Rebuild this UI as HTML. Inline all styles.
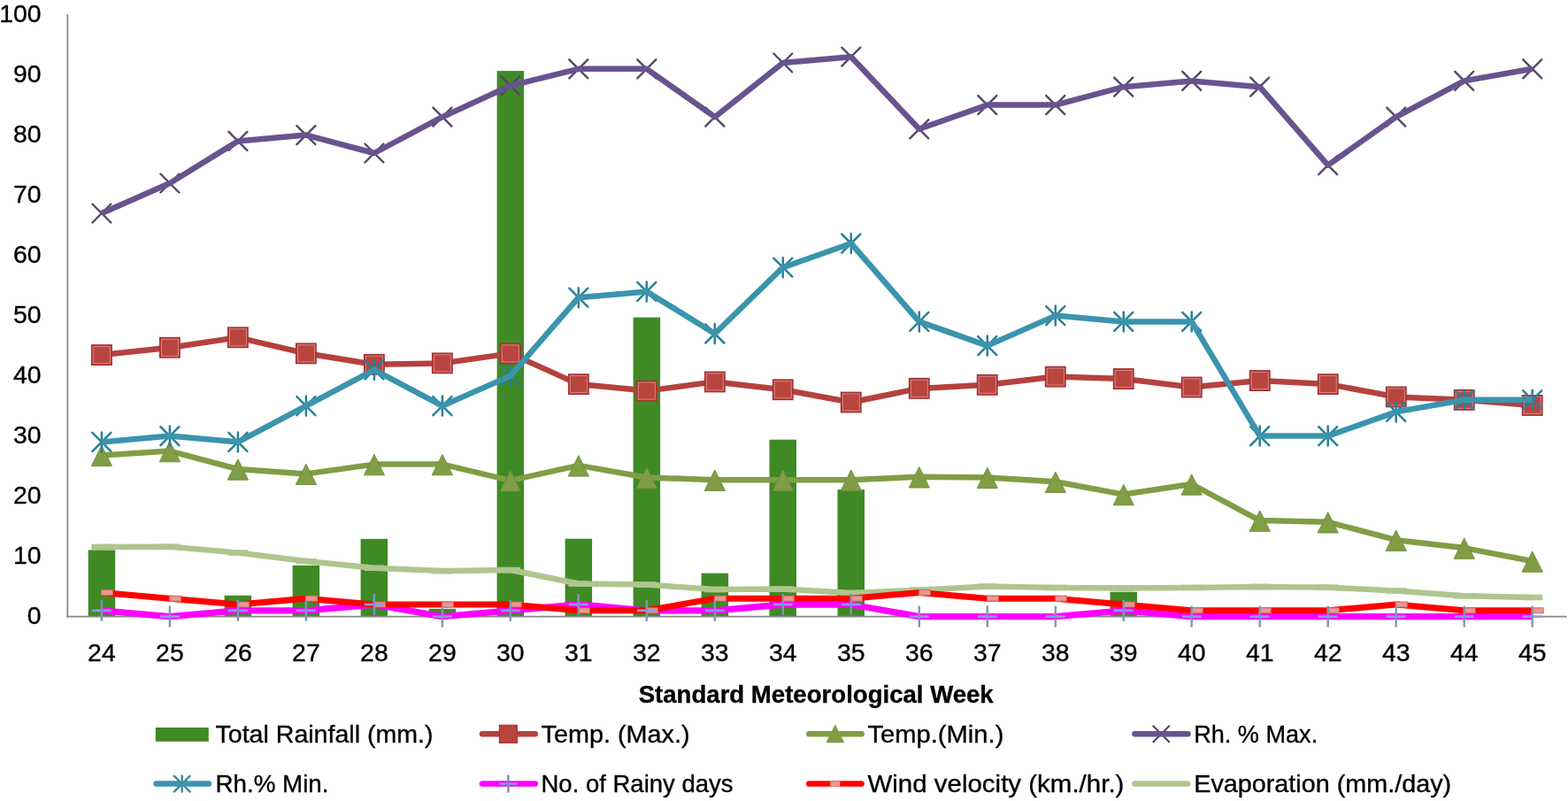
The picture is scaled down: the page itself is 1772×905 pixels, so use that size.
<!DOCTYPE html><html><head><meta charset="utf-8"><title>Weather parameters by Standard Meteorological Week</title>
<style>html,body{margin:0;padding:0;background:#fff;}body{width:1772px;height:905px;overflow:hidden;}svg{display:block;}text{font-family:"Liberation Sans",Arial,sans-serif;fill:#000;stroke:#000;stroke-width:0.35px;}</style></head><body>
<svg width="1772" height="905" viewBox="0 0 1772 905">
<rect x="0" y="0" width="1772" height="905" fill="#ffffff"/>
<rect x="99.7" y="621.4" width="30.5" height="75.2" fill="#3f8a24"/>
<rect x="253.6" y="672.8" width="30.5" height="23.8" fill="#3f8a24"/>
<rect x="330.6" y="638.8" width="30.5" height="57.8" fill="#3f8a24"/>
<rect x="407.6" y="608.9" width="30.5" height="87.7" fill="#3f8a24"/>
<rect x="484.6" y="687.8" width="30.5" height="8.8" fill="#3f8a24"/>
<rect x="561.6" y="80.1" width="30.5" height="616.5" fill="#3f8a24"/>
<rect x="638.6" y="608.7" width="30.5" height="87.9" fill="#3f8a24"/>
<rect x="715.6" y="358.6" width="30.5" height="338.0" fill="#3f8a24"/>
<rect x="792.6" y="647.6" width="30.5" height="49.0" fill="#3f8a24"/>
<rect x="869.5" y="496.7" width="30.5" height="199.9" fill="#3f8a24"/>
<rect x="946.5" y="553.1" width="30.5" height="143.5" fill="#3f8a24"/>
<rect x="1254.5" y="668.7" width="30.5" height="27.9" fill="#3f8a24"/>
<line x1="76.3" y1="16.3" x2="76.3" y2="697.5" stroke="#878787" stroke-width="1.8"/>
<line x1="75.4" y1="696.6" x2="1770.5" y2="696.6" stroke="#878787" stroke-width="1.8"/>
<polyline points="114.9,618.0 191.9,617.7 268.9,624.5 345.9,634.0 422.9,641.8 499.9,645.1 576.8,644.0 653.8,659.5 730.8,660.6 807.8,666.0 884.8,665.5 961.8,670.1 1038.8,666.7 1115.8,662.6 1192.8,664.0 1269.8,664.6 1346.7,664.0 1423.7,662.9 1500.7,663.7 1577.7,667.4 1654.7,673.2 1731.7,675.0" fill="none" stroke="#aec68e" stroke-width="6.5" stroke-linejoin="round" stroke-linecap="butt"/>
<rect x="103.4" y="614.7" width="23" height="6.5" fill="#aec68e"/>
<rect x="180.4" y="614.5" width="23" height="6.5" fill="#aec68e"/>
<rect x="257.4" y="621.3" width="23" height="6.5" fill="#aec68e"/>
<rect x="334.4" y="630.8" width="23" height="6.5" fill="#aec68e"/>
<rect x="411.4" y="638.5" width="23" height="6.5" fill="#aec68e"/>
<rect x="488.4" y="641.9" width="23" height="6.5" fill="#aec68e"/>
<rect x="565.3" y="640.8" width="23" height="6.5" fill="#aec68e"/>
<rect x="642.3" y="656.3" width="23" height="6.5" fill="#aec68e"/>
<rect x="719.3" y="657.3" width="23" height="6.5" fill="#aec68e"/>
<rect x="796.3" y="662.8" width="23" height="6.5" fill="#aec68e"/>
<rect x="873.3" y="662.3" width="23" height="6.5" fill="#aec68e"/>
<rect x="950.3" y="666.8" width="23" height="6.5" fill="#aec68e"/>
<rect x="1027.3" y="663.4" width="23" height="6.5" fill="#aec68e"/>
<rect x="1104.3" y="659.4" width="23" height="6.5" fill="#aec68e"/>
<rect x="1181.3" y="660.7" width="23" height="6.5" fill="#aec68e"/>
<rect x="1258.2" y="661.4" width="23" height="6.5" fill="#aec68e"/>
<rect x="1335.2" y="660.7" width="23" height="6.5" fill="#aec68e"/>
<rect x="1412.2" y="659.7" width="23" height="6.5" fill="#aec68e"/>
<rect x="1489.2" y="660.4" width="23" height="6.5" fill="#aec68e"/>
<rect x="1566.2" y="664.1" width="23" height="6.5" fill="#aec68e"/>
<rect x="1643.2" y="670.0" width="23" height="6.5" fill="#aec68e"/>
<rect x="1720.2" y="671.7" width="23" height="6.5" fill="#aec68e"/>
<polyline points="114.9,689.8 191.9,696.6 268.9,689.8 345.9,689.8 422.9,683.0 499.9,696.6 576.8,689.8 653.8,683.0 730.8,689.8 807.8,689.8 884.8,683.0 961.8,683.0 1038.8,696.6 1115.8,696.6 1192.8,696.6 1269.8,689.8 1346.7,696.6 1423.7,696.6 1500.7,696.6 1577.7,696.6 1654.7,696.6 1731.7,696.6" fill="none" stroke="#ff00ff" stroke-width="7.3" stroke-linejoin="round" stroke-linecap="butt"/>
<polyline points="114.9,669.4 191.9,676.2 268.9,683.0 345.9,676.2 422.9,683.0 499.9,683.0 576.8,683.0 653.8,689.8 730.8,689.8 807.8,676.2 884.8,676.2 961.8,676.2 1038.8,669.4 1115.8,676.2 1192.8,676.2 1269.8,683.0 1346.7,689.8 1423.7,689.8 1500.7,689.8 1577.7,683.0 1654.7,689.8 1731.7,689.8" fill="none" stroke="#ff0000" stroke-width="7.0" stroke-linejoin="round" stroke-linecap="butt"/>
<rect x="114.4" y="666.4" width="13" height="6" fill="#e49a96" stroke="#e06060" stroke-width="1"/>
<rect x="191.4" y="673.2" width="13" height="6" fill="#e49a96" stroke="#e06060" stroke-width="1"/>
<rect x="268.4" y="680.0" width="13" height="6" fill="#e49a96" stroke="#e06060" stroke-width="1"/>
<rect x="345.4" y="673.2" width="13" height="6" fill="#e49a96" stroke="#e06060" stroke-width="1"/>
<rect x="422.4" y="680.0" width="13" height="6" fill="#e49a96" stroke="#e06060" stroke-width="1"/>
<rect x="499.4" y="680.0" width="13" height="6" fill="#e49a96" stroke="#e06060" stroke-width="1"/>
<rect x="576.3" y="680.0" width="13" height="6" fill="#e49a96" stroke="#e06060" stroke-width="1"/>
<rect x="653.3" y="686.8" width="13" height="6" fill="#e49a96" stroke="#e06060" stroke-width="1"/>
<rect x="730.3" y="686.8" width="13" height="6" fill="#e49a96" stroke="#e06060" stroke-width="1"/>
<rect x="807.3" y="673.2" width="13" height="6" fill="#e49a96" stroke="#e06060" stroke-width="1"/>
<rect x="884.3" y="673.2" width="13" height="6" fill="#e49a96" stroke="#e06060" stroke-width="1"/>
<rect x="961.3" y="673.2" width="13" height="6" fill="#e49a96" stroke="#e06060" stroke-width="1"/>
<rect x="1038.3" y="666.4" width="13" height="6" fill="#e49a96" stroke="#e06060" stroke-width="1"/>
<rect x="1115.3" y="673.2" width="13" height="6" fill="#e49a96" stroke="#e06060" stroke-width="1"/>
<rect x="1192.3" y="673.2" width="13" height="6" fill="#e49a96" stroke="#e06060" stroke-width="1"/>
<rect x="1269.2" y="680.0" width="13" height="6" fill="#e49a96" stroke="#e06060" stroke-width="1"/>
<rect x="1346.2" y="686.8" width="13" height="6" fill="#e49a96" stroke="#e06060" stroke-width="1"/>
<rect x="1423.2" y="686.8" width="13" height="6" fill="#e49a96" stroke="#e06060" stroke-width="1"/>
<rect x="1500.2" y="686.8" width="13" height="6" fill="#e49a96" stroke="#e06060" stroke-width="1"/>
<rect x="1577.2" y="680.0" width="13" height="6" fill="#e49a96" stroke="#e06060" stroke-width="1"/>
<rect x="1654.2" y="686.8" width="13" height="6" fill="#e49a96" stroke="#e06060" stroke-width="1"/>
<rect x="1731.2" y="686.8" width="13" height="6" fill="#e49a96" stroke="#e06060" stroke-width="1"/>
<line x1="103.9" y1="689.8" x2="125.9" y2="689.8" stroke="#8c9be6" stroke-width="2.6"/>
<line x1="114.9" y1="677.8" x2="114.9" y2="701.8" stroke="#8193bb" stroke-width="2.4"/>
<line x1="180.9" y1="696.6" x2="202.9" y2="696.6" stroke="#8c9be6" stroke-width="2.6"/>
<line x1="191.9" y1="684.6" x2="191.9" y2="708.6" stroke="#8193bb" stroke-width="2.4"/>
<line x1="257.9" y1="689.8" x2="279.9" y2="689.8" stroke="#8c9be6" stroke-width="2.6"/>
<line x1="268.9" y1="677.8" x2="268.9" y2="701.8" stroke="#8193bb" stroke-width="2.4"/>
<line x1="334.9" y1="689.8" x2="356.9" y2="689.8" stroke="#8c9be6" stroke-width="2.6"/>
<line x1="345.9" y1="677.8" x2="345.9" y2="701.8" stroke="#8193bb" stroke-width="2.4"/>
<line x1="411.9" y1="683.0" x2="433.9" y2="683.0" stroke="#8c9be6" stroke-width="2.6"/>
<line x1="422.9" y1="671.0" x2="422.9" y2="695.0" stroke="#8193bb" stroke-width="2.4"/>
<line x1="488.9" y1="696.6" x2="510.9" y2="696.6" stroke="#8c9be6" stroke-width="2.6"/>
<line x1="499.9" y1="684.6" x2="499.9" y2="708.6" stroke="#8193bb" stroke-width="2.4"/>
<line x1="565.8" y1="689.8" x2="587.8" y2="689.8" stroke="#8c9be6" stroke-width="2.6"/>
<line x1="576.8" y1="677.8" x2="576.8" y2="701.8" stroke="#8193bb" stroke-width="2.4"/>
<line x1="642.8" y1="683.0" x2="664.8" y2="683.0" stroke="#8c9be6" stroke-width="2.6"/>
<line x1="653.8" y1="671.0" x2="653.8" y2="695.0" stroke="#8193bb" stroke-width="2.4"/>
<line x1="719.8" y1="689.8" x2="741.8" y2="689.8" stroke="#8c9be6" stroke-width="2.6"/>
<line x1="730.8" y1="677.8" x2="730.8" y2="701.8" stroke="#8193bb" stroke-width="2.4"/>
<line x1="796.8" y1="689.8" x2="818.8" y2="689.8" stroke="#8c9be6" stroke-width="2.6"/>
<line x1="807.8" y1="677.8" x2="807.8" y2="701.8" stroke="#8193bb" stroke-width="2.4"/>
<line x1="873.8" y1="683.0" x2="895.8" y2="683.0" stroke="#8c9be6" stroke-width="2.6"/>
<line x1="884.8" y1="671.0" x2="884.8" y2="695.0" stroke="#8193bb" stroke-width="2.4"/>
<line x1="950.8" y1="683.0" x2="972.8" y2="683.0" stroke="#8c9be6" stroke-width="2.6"/>
<line x1="961.8" y1="671.0" x2="961.8" y2="695.0" stroke="#8193bb" stroke-width="2.4"/>
<line x1="1027.8" y1="696.6" x2="1049.8" y2="696.6" stroke="#8c9be6" stroke-width="2.6"/>
<line x1="1038.8" y1="684.6" x2="1038.8" y2="708.6" stroke="#8193bb" stroke-width="2.4"/>
<line x1="1104.8" y1="696.6" x2="1126.8" y2="696.6" stroke="#8c9be6" stroke-width="2.6"/>
<line x1="1115.8" y1="684.6" x2="1115.8" y2="708.6" stroke="#8193bb" stroke-width="2.4"/>
<line x1="1181.8" y1="696.6" x2="1203.8" y2="696.6" stroke="#8c9be6" stroke-width="2.6"/>
<line x1="1192.8" y1="684.6" x2="1192.8" y2="708.6" stroke="#8193bb" stroke-width="2.4"/>
<line x1="1258.8" y1="689.8" x2="1280.8" y2="689.8" stroke="#8c9be6" stroke-width="2.6"/>
<line x1="1269.8" y1="677.8" x2="1269.8" y2="701.8" stroke="#8193bb" stroke-width="2.4"/>
<line x1="1335.7" y1="696.6" x2="1357.7" y2="696.6" stroke="#8c9be6" stroke-width="2.6"/>
<line x1="1346.7" y1="684.6" x2="1346.7" y2="708.6" stroke="#8193bb" stroke-width="2.4"/>
<line x1="1412.7" y1="696.6" x2="1434.7" y2="696.6" stroke="#8c9be6" stroke-width="2.6"/>
<line x1="1423.7" y1="684.6" x2="1423.7" y2="708.6" stroke="#8193bb" stroke-width="2.4"/>
<line x1="1489.7" y1="696.6" x2="1511.7" y2="696.6" stroke="#8c9be6" stroke-width="2.6"/>
<line x1="1500.7" y1="684.6" x2="1500.7" y2="708.6" stroke="#8193bb" stroke-width="2.4"/>
<line x1="1566.7" y1="696.6" x2="1588.7" y2="696.6" stroke="#8c9be6" stroke-width="2.6"/>
<line x1="1577.7" y1="684.6" x2="1577.7" y2="708.6" stroke="#8193bb" stroke-width="2.4"/>
<line x1="1643.7" y1="696.6" x2="1665.7" y2="696.6" stroke="#8c9be6" stroke-width="2.6"/>
<line x1="1654.7" y1="684.6" x2="1654.7" y2="708.6" stroke="#8193bb" stroke-width="2.4"/>
<line x1="1720.7" y1="696.6" x2="1742.7" y2="696.6" stroke="#8c9be6" stroke-width="2.6"/>
<line x1="1731.7" y1="684.6" x2="1731.7" y2="708.6" stroke="#8193bb" stroke-width="2.4"/>
<polyline points="114.9,514.4 191.9,509.6 268.9,530.0 345.9,535.4 422.9,524.6 499.9,524.6 576.8,542.9 653.8,525.9 730.8,539.5 807.8,542.2 884.8,542.2 961.8,542.2 1038.8,538.8 1115.8,539.5 1192.8,544.3 1269.8,558.6 1346.7,547.0 1423.7,588.1 1500.7,589.8 1577.7,610.2 1654.7,619.1 1731.7,634.0" fill="none" stroke="#7f9e45" stroke-width="6.5" stroke-linejoin="round" stroke-linecap="butt"/>
<polygon points="114.9,503.2 126.5,526.6 103.3,526.6" fill="#7f9e45" stroke="#758f3f" stroke-width="1" stroke-linejoin="round"/>
<polygon points="191.9,498.4 203.5,521.8 180.3,521.8" fill="#7f9e45" stroke="#758f3f" stroke-width="1" stroke-linejoin="round"/>
<polygon points="268.9,518.8 280.5,542.2 257.3,542.2" fill="#7f9e45" stroke="#758f3f" stroke-width="1" stroke-linejoin="round"/>
<polygon points="345.9,524.2 357.5,547.6 334.3,547.6" fill="#7f9e45" stroke="#758f3f" stroke-width="1" stroke-linejoin="round"/>
<polygon points="422.9,513.4 434.5,536.8 411.3,536.8" fill="#7f9e45" stroke="#758f3f" stroke-width="1" stroke-linejoin="round"/>
<polygon points="499.9,513.4 511.5,536.8 488.2,536.8" fill="#7f9e45" stroke="#758f3f" stroke-width="1" stroke-linejoin="round"/>
<polygon points="576.8,531.7 588.4,555.1 565.2,555.1" fill="#7f9e45" stroke="#758f3f" stroke-width="1" stroke-linejoin="round"/>
<polygon points="653.8,514.7 665.4,538.1 642.2,538.1" fill="#7f9e45" stroke="#758f3f" stroke-width="1" stroke-linejoin="round"/>
<polygon points="730.8,528.3 742.4,551.7 719.2,551.7" fill="#7f9e45" stroke="#758f3f" stroke-width="1" stroke-linejoin="round"/>
<polygon points="807.8,531.0 819.4,554.4 796.2,554.4" fill="#7f9e45" stroke="#758f3f" stroke-width="1" stroke-linejoin="round"/>
<polygon points="884.8,531.0 896.4,554.4 873.2,554.4" fill="#7f9e45" stroke="#758f3f" stroke-width="1" stroke-linejoin="round"/>
<polygon points="961.8,531.0 973.4,554.4 950.2,554.4" fill="#7f9e45" stroke="#758f3f" stroke-width="1" stroke-linejoin="round"/>
<polygon points="1038.8,527.6 1050.4,551.0 1027.2,551.0" fill="#7f9e45" stroke="#758f3f" stroke-width="1" stroke-linejoin="round"/>
<polygon points="1115.8,528.3 1127.4,551.7 1104.2,551.7" fill="#7f9e45" stroke="#758f3f" stroke-width="1" stroke-linejoin="round"/>
<polygon points="1192.8,533.1 1204.4,556.5 1181.2,556.5" fill="#7f9e45" stroke="#758f3f" stroke-width="1" stroke-linejoin="round"/>
<polygon points="1269.8,547.4 1281.3,570.8 1258.2,570.8" fill="#7f9e45" stroke="#758f3f" stroke-width="1" stroke-linejoin="round"/>
<polygon points="1346.7,535.8 1358.3,559.2 1335.1,559.2" fill="#7f9e45" stroke="#758f3f" stroke-width="1" stroke-linejoin="round"/>
<polygon points="1423.7,576.9 1435.3,600.3 1412.1,600.3" fill="#7f9e45" stroke="#758f3f" stroke-width="1" stroke-linejoin="round"/>
<polygon points="1500.7,578.6 1512.3,602.0 1489.1,602.0" fill="#7f9e45" stroke="#758f3f" stroke-width="1" stroke-linejoin="round"/>
<polygon points="1577.7,599.0 1589.3,622.4 1566.1,622.4" fill="#7f9e45" stroke="#758f3f" stroke-width="1" stroke-linejoin="round"/>
<polygon points="1654.7,607.9 1666.3,631.3 1643.1,631.3" fill="#7f9e45" stroke="#758f3f" stroke-width="1" stroke-linejoin="round"/>
<polygon points="1731.7,622.8 1743.3,646.2 1720.1,646.2" fill="#7f9e45" stroke="#758f3f" stroke-width="1" stroke-linejoin="round"/>
<polyline points="114.9,401.0 191.9,392.8 268.9,381.3 345.9,399.3 422.9,411.8 499.9,410.4 576.8,399.4 653.8,434.1 730.8,441.6 807.8,431.4 884.8,440.2 961.8,454.5 1038.8,438.9 1115.8,434.8 1192.8,425.6 1269.8,428.0 1346.7,437.5 1423.7,430.0 1500.7,434.1 1577.7,448.4 1654.7,451.8 1731.7,457.9" fill="none" stroke="#b5413e" stroke-width="6.5" stroke-linejoin="round" stroke-linecap="butt"/>
<rect x="103.7" y="389.8" width="22.5" height="22.5" fill="#b9453f" stroke="#a33338" stroke-width="1.4"/>
<rect x="105.4" y="391.5" width="19" height="19" fill="none" stroke="#d98a86" stroke-width="0.9"/>
<rect x="180.6" y="381.5" width="22.5" height="22.5" fill="#b9453f" stroke="#a33338" stroke-width="1.4"/>
<rect x="182.4" y="383.3" width="19" height="19" fill="none" stroke="#d98a86" stroke-width="0.9"/>
<rect x="257.6" y="370.0" width="22.5" height="22.5" fill="#b9453f" stroke="#a33338" stroke-width="1.4"/>
<rect x="259.4" y="371.8" width="19" height="19" fill="none" stroke="#d98a86" stroke-width="0.9"/>
<rect x="334.6" y="388.1" width="22.5" height="22.5" fill="#b9453f" stroke="#a33338" stroke-width="1.4"/>
<rect x="336.4" y="389.8" width="19" height="19" fill="none" stroke="#d98a86" stroke-width="0.9"/>
<rect x="411.6" y="400.6" width="22.5" height="22.5" fill="#b9453f" stroke="#a33338" stroke-width="1.4"/>
<rect x="413.4" y="402.3" width="19" height="19" fill="none" stroke="#d98a86" stroke-width="0.9"/>
<rect x="488.6" y="399.1" width="22.5" height="22.5" fill="#b9453f" stroke="#a33338" stroke-width="1.4"/>
<rect x="490.4" y="400.9" width="19" height="19" fill="none" stroke="#d98a86" stroke-width="0.9"/>
<rect x="565.6" y="388.2" width="22.5" height="22.5" fill="#b9453f" stroke="#a33338" stroke-width="1.4"/>
<rect x="567.3" y="389.9" width="19" height="19" fill="none" stroke="#d98a86" stroke-width="0.9"/>
<rect x="642.6" y="422.9" width="22.5" height="22.5" fill="#b9453f" stroke="#a33338" stroke-width="1.4"/>
<rect x="644.3" y="424.6" width="19" height="19" fill="none" stroke="#d98a86" stroke-width="0.9"/>
<rect x="719.6" y="430.4" width="22.5" height="22.5" fill="#b9453f" stroke="#a33338" stroke-width="1.4"/>
<rect x="721.3" y="432.1" width="19" height="19" fill="none" stroke="#d98a86" stroke-width="0.9"/>
<rect x="796.6" y="420.2" width="22.5" height="22.5" fill="#b9453f" stroke="#a33338" stroke-width="1.4"/>
<rect x="798.3" y="421.9" width="19" height="19" fill="none" stroke="#d98a86" stroke-width="0.9"/>
<rect x="873.5" y="429.0" width="22.5" height="22.5" fill="#b9453f" stroke="#a33338" stroke-width="1.4"/>
<rect x="875.3" y="430.7" width="19" height="19" fill="none" stroke="#d98a86" stroke-width="0.9"/>
<rect x="950.5" y="443.3" width="22.5" height="22.5" fill="#b9453f" stroke="#a33338" stroke-width="1.4"/>
<rect x="952.3" y="445.0" width="19" height="19" fill="none" stroke="#d98a86" stroke-width="0.9"/>
<rect x="1027.5" y="427.6" width="22.5" height="22.5" fill="#b9453f" stroke="#a33338" stroke-width="1.4"/>
<rect x="1029.3" y="429.4" width="19" height="19" fill="none" stroke="#d98a86" stroke-width="0.9"/>
<rect x="1104.5" y="423.6" width="22.5" height="22.5" fill="#b9453f" stroke="#a33338" stroke-width="1.4"/>
<rect x="1106.3" y="425.3" width="19" height="19" fill="none" stroke="#d98a86" stroke-width="0.9"/>
<rect x="1181.5" y="414.4" width="22.5" height="22.5" fill="#b9453f" stroke="#a33338" stroke-width="1.4"/>
<rect x="1183.3" y="416.1" width="19" height="19" fill="none" stroke="#d98a86" stroke-width="0.9"/>
<rect x="1258.5" y="416.8" width="22.5" height="22.5" fill="#b9453f" stroke="#a33338" stroke-width="1.4"/>
<rect x="1260.2" y="418.5" width="19" height="19" fill="none" stroke="#d98a86" stroke-width="0.9"/>
<rect x="1335.5" y="426.3" width="22.5" height="22.5" fill="#b9453f" stroke="#a33338" stroke-width="1.4"/>
<rect x="1337.2" y="428.0" width="19" height="19" fill="none" stroke="#d98a86" stroke-width="0.9"/>
<rect x="1412.5" y="418.8" width="22.5" height="22.5" fill="#b9453f" stroke="#a33338" stroke-width="1.4"/>
<rect x="1414.2" y="420.5" width="19" height="19" fill="none" stroke="#d98a86" stroke-width="0.9"/>
<rect x="1489.5" y="422.9" width="22.5" height="22.5" fill="#b9453f" stroke="#a33338" stroke-width="1.4"/>
<rect x="1491.2" y="424.6" width="19" height="19" fill="none" stroke="#d98a86" stroke-width="0.9"/>
<rect x="1566.5" y="437.2" width="22.5" height="22.5" fill="#b9453f" stroke="#a33338" stroke-width="1.4"/>
<rect x="1568.2" y="438.9" width="19" height="19" fill="none" stroke="#d98a86" stroke-width="0.9"/>
<rect x="1643.5" y="440.6" width="22.5" height="22.5" fill="#b9453f" stroke="#a33338" stroke-width="1.4"/>
<rect x="1645.2" y="442.3" width="19" height="19" fill="none" stroke="#d98a86" stroke-width="0.9"/>
<rect x="1720.4" y="446.7" width="22.5" height="22.5" fill="#b9453f" stroke="#a33338" stroke-width="1.4"/>
<rect x="1722.2" y="448.4" width="19" height="19" fill="none" stroke="#d98a86" stroke-width="0.9"/>
<path d="M104.4 230.5L125.4 251.5M104.4 251.5L125.4 230.5" stroke="#524968" stroke-width="2.4" stroke-linecap="round" fill="none"/>
<path d="M181.4 196.5L202.4 217.5M181.4 217.5L202.4 196.5" stroke="#524968" stroke-width="2.4" stroke-linecap="round" fill="none"/>
<path d="M258.4 148.9L279.4 169.9M258.4 169.9L279.4 148.9" stroke="#524968" stroke-width="2.4" stroke-linecap="round" fill="none"/>
<path d="M335.4 142.1L356.4 163.1M335.4 163.1L356.4 142.1" stroke="#524968" stroke-width="2.4" stroke-linecap="round" fill="none"/>
<path d="M412.4 162.5L433.4 183.5M412.4 183.5L433.4 162.5" stroke="#524968" stroke-width="2.4" stroke-linecap="round" fill="none"/>
<path d="M489.4 121.7L510.4 142.7M489.4 142.7L510.4 121.7" stroke="#524968" stroke-width="2.4" stroke-linecap="round" fill="none"/>
<path d="M566.3 86.3L587.3 107.3M566.3 107.3L587.3 86.3" stroke="#524968" stroke-width="2.4" stroke-linecap="round" fill="none"/>
<path d="M643.3 67.3L664.3 88.3M643.3 88.3L664.3 67.3" stroke="#524968" stroke-width="2.4" stroke-linecap="round" fill="none"/>
<path d="M720.3 67.3L741.3 88.3M720.3 88.3L741.3 67.3" stroke="#524968" stroke-width="2.4" stroke-linecap="round" fill="none"/>
<path d="M797.3 121.7L818.3 142.7M797.3 142.7L818.3 121.7" stroke="#524968" stroke-width="2.4" stroke-linecap="round" fill="none"/>
<path d="M874.3 60.5L895.3 81.5M874.3 81.5L895.3 60.5" stroke="#524968" stroke-width="2.4" stroke-linecap="round" fill="none"/>
<path d="M951.3 53.7L972.3 74.7M951.3 74.7L972.3 53.7" stroke="#524968" stroke-width="2.4" stroke-linecap="round" fill="none"/>
<path d="M1028.3 135.3L1049.3 156.3M1028.3 156.3L1049.3 135.3" stroke="#524968" stroke-width="2.4" stroke-linecap="round" fill="none"/>
<path d="M1105.3 108.1L1126.3 129.1M1105.3 129.1L1126.3 108.1" stroke="#524968" stroke-width="2.4" stroke-linecap="round" fill="none"/>
<path d="M1182.3 108.1L1203.3 129.1M1182.3 129.1L1203.3 108.1" stroke="#524968" stroke-width="2.4" stroke-linecap="round" fill="none"/>
<path d="M1259.2 87.7L1280.2 108.7M1259.2 108.7L1280.2 87.7" stroke="#524968" stroke-width="2.4" stroke-linecap="round" fill="none"/>
<path d="M1336.2 80.9L1357.2 101.9M1336.2 101.9L1357.2 80.9" stroke="#524968" stroke-width="2.4" stroke-linecap="round" fill="none"/>
<path d="M1413.2 87.7L1434.2 108.7M1413.2 108.7L1434.2 87.7" stroke="#524968" stroke-width="2.4" stroke-linecap="round" fill="none"/>
<path d="M1490.2 176.1L1511.2 197.1M1490.2 197.1L1511.2 176.1" stroke="#524968" stroke-width="2.4" stroke-linecap="round" fill="none"/>
<path d="M1567.2 121.7L1588.2 142.7M1567.2 142.7L1588.2 121.7" stroke="#524968" stroke-width="2.4" stroke-linecap="round" fill="none"/>
<path d="M1644.2 80.9L1665.2 101.9M1644.2 101.9L1665.2 80.9" stroke="#524968" stroke-width="2.4" stroke-linecap="round" fill="none"/>
<path d="M1721.2 67.3L1742.2 88.3M1721.2 88.3L1742.2 67.3" stroke="#524968" stroke-width="2.4" stroke-linecap="round" fill="none"/>
<polyline points="114.9,241.0 191.9,207.0 268.9,159.4 345.9,152.6 422.9,173.0 499.9,132.2 576.8,96.8 653.8,77.8 730.8,77.8 807.8,132.2 884.8,71.0 961.8,64.2 1038.8,145.8 1115.8,118.6 1192.8,118.6 1269.8,98.2 1346.7,91.4 1423.7,98.2 1500.7,186.6 1577.7,132.2 1654.7,91.4 1731.7,77.8" fill="none" stroke="#69538f" stroke-width="6.5" stroke-linejoin="round" stroke-linecap="butt"/>
<path d="M104.4 488.9L125.4 509.9M104.4 509.9L125.4 488.9M114.9 488.4L114.9 510.4" stroke="#2a8096" stroke-width="2.5" stroke-linecap="round" fill="none"/>
<path d="M181.4 482.1L202.4 503.1M181.4 503.1L202.4 482.1M191.9 481.6L191.9 503.6" stroke="#2a8096" stroke-width="2.5" stroke-linecap="round" fill="none"/>
<path d="M258.4 488.9L279.4 509.9M258.4 509.9L279.4 488.9M268.9 488.4L268.9 510.4" stroke="#2a8096" stroke-width="2.5" stroke-linecap="round" fill="none"/>
<path d="M335.4 448.1L356.4 469.1M335.4 469.1L356.4 448.1M345.9 447.6L345.9 469.6" stroke="#2a8096" stroke-width="2.5" stroke-linecap="round" fill="none"/>
<path d="M412.4 407.3L433.4 428.3M412.4 428.3L433.4 407.3M422.9 406.8L422.9 428.8" stroke="#2a8096" stroke-width="2.5" stroke-linecap="round" fill="none"/>
<path d="M489.4 448.1L510.4 469.1M489.4 469.1L510.4 448.1M499.9 447.6L499.9 469.6" stroke="#2a8096" stroke-width="2.5" stroke-linecap="round" fill="none"/>
<path d="M566.3 414.1L587.3 435.1M566.3 435.1L587.3 414.1M576.8 413.6L576.8 435.6" stroke="#2a8096" stroke-width="2.5" stroke-linecap="round" fill="none"/>
<path d="M643.3 325.7L664.3 346.7M643.3 346.7L664.3 325.7M653.8 325.2L653.8 347.2" stroke="#2a8096" stroke-width="2.5" stroke-linecap="round" fill="none"/>
<path d="M720.3 318.9L741.3 339.9M720.3 339.9L741.3 318.9M730.8 318.4L730.8 340.4" stroke="#2a8096" stroke-width="2.5" stroke-linecap="round" fill="none"/>
<path d="M797.3 366.5L818.3 387.5M797.3 387.5L818.3 366.5M807.8 366.0L807.8 388.0" stroke="#2a8096" stroke-width="2.5" stroke-linecap="round" fill="none"/>
<path d="M874.3 291.7L895.3 312.7M874.3 312.7L895.3 291.7M884.8 291.2L884.8 313.2" stroke="#2a8096" stroke-width="2.5" stroke-linecap="round" fill="none"/>
<path d="M951.3 264.5L972.3 285.5M951.3 285.5L972.3 264.5M961.8 264.0L961.8 286.0" stroke="#2a8096" stroke-width="2.5" stroke-linecap="round" fill="none"/>
<path d="M1028.3 352.9L1049.3 373.9M1028.3 373.9L1049.3 352.9M1038.8 352.4L1038.8 374.4" stroke="#2a8096" stroke-width="2.5" stroke-linecap="round" fill="none"/>
<path d="M1105.3 380.1L1126.3 401.1M1105.3 401.1L1126.3 380.1M1115.8 379.6L1115.8 401.6" stroke="#2a8096" stroke-width="2.5" stroke-linecap="round" fill="none"/>
<path d="M1182.3 346.1L1203.3 367.1M1182.3 367.1L1203.3 346.1M1192.8 345.6L1192.8 367.6" stroke="#2a8096" stroke-width="2.5" stroke-linecap="round" fill="none"/>
<path d="M1259.2 352.9L1280.2 373.9M1259.2 373.9L1280.2 352.9M1269.8 352.4L1269.8 374.4" stroke="#2a8096" stroke-width="2.5" stroke-linecap="round" fill="none"/>
<path d="M1336.2 352.9L1357.2 373.9M1336.2 373.9L1357.2 352.9M1346.7 352.4L1346.7 374.4" stroke="#2a8096" stroke-width="2.5" stroke-linecap="round" fill="none"/>
<path d="M1413.2 482.1L1434.2 503.1M1413.2 503.1L1434.2 482.1M1423.7 481.6L1423.7 503.6" stroke="#2a8096" stroke-width="2.5" stroke-linecap="round" fill="none"/>
<path d="M1490.2 482.1L1511.2 503.1M1490.2 503.1L1511.2 482.1M1500.7 481.6L1500.7 503.6" stroke="#2a8096" stroke-width="2.5" stroke-linecap="round" fill="none"/>
<path d="M1567.2 454.9L1588.2 475.9M1567.2 475.9L1588.2 454.9M1577.7 454.4L1577.7 476.4" stroke="#2a8096" stroke-width="2.5" stroke-linecap="round" fill="none"/>
<path d="M1644.2 441.3L1665.2 462.3M1644.2 462.3L1665.2 441.3M1654.7 440.8L1654.7 462.8" stroke="#2a8096" stroke-width="2.5" stroke-linecap="round" fill="none"/>
<path d="M1721.2 441.3L1742.2 462.3M1721.2 462.3L1742.2 441.3M1731.7 440.8L1731.7 462.8" stroke="#2a8096" stroke-width="2.5" stroke-linecap="round" fill="none"/>
<polyline points="114.9,499.4 191.9,492.6 268.9,499.4 345.9,458.6 422.9,417.8 499.9,458.6 576.8,424.6 653.8,336.2 730.8,329.4 807.8,377.0 884.8,302.2 961.8,275.0 1038.8,363.4 1115.8,390.6 1192.8,356.6 1269.8,363.4 1346.7,363.4 1423.7,492.6 1500.7,492.6 1577.7,465.4 1654.7,451.8 1731.7,451.8" fill="none" stroke="#3b94ad" stroke-width="6.5" stroke-linejoin="round" stroke-linecap="butt"/>
<text x="46.5" y="705.4" font-size="28.4" text-anchor="end">0</text>
<text x="46.5" y="637.4" font-size="28.4" text-anchor="end">10</text>
<text x="46.5" y="569.4" font-size="28.4" text-anchor="end">20</text>
<text x="46.5" y="501.4" font-size="28.4" text-anchor="end">30</text>
<text x="46.5" y="433.4" font-size="28.4" text-anchor="end">40</text>
<text x="46.5" y="365.4" font-size="28.4" text-anchor="end">50</text>
<text x="46.5" y="297.4" font-size="28.4" text-anchor="end">60</text>
<text x="46.5" y="229.4" font-size="28.4" text-anchor="end">70</text>
<text x="46.5" y="161.4" font-size="28.4" text-anchor="end">80</text>
<text x="46.5" y="93.4" font-size="28.4" text-anchor="end">90</text>
<text x="46.5" y="25.4" font-size="28.4" text-anchor="end">100</text>
<text x="114.9" y="747.3" font-size="28.4" text-anchor="middle">24</text>
<text x="191.9" y="747.3" font-size="28.4" text-anchor="middle">25</text>
<text x="268.9" y="747.3" font-size="28.4" text-anchor="middle">26</text>
<text x="345.9" y="747.3" font-size="28.4" text-anchor="middle">27</text>
<text x="422.9" y="747.3" font-size="28.4" text-anchor="middle">28</text>
<text x="499.9" y="747.3" font-size="28.4" text-anchor="middle">29</text>
<text x="576.8" y="747.3" font-size="28.4" text-anchor="middle">30</text>
<text x="653.8" y="747.3" font-size="28.4" text-anchor="middle">31</text>
<text x="730.8" y="747.3" font-size="28.4" text-anchor="middle">32</text>
<text x="807.8" y="747.3" font-size="28.4" text-anchor="middle">33</text>
<text x="884.8" y="747.3" font-size="28.4" text-anchor="middle">34</text>
<text x="961.8" y="747.3" font-size="28.4" text-anchor="middle">35</text>
<text x="1038.8" y="747.3" font-size="28.4" text-anchor="middle">36</text>
<text x="1115.8" y="747.3" font-size="28.4" text-anchor="middle">37</text>
<text x="1192.8" y="747.3" font-size="28.4" text-anchor="middle">38</text>
<text x="1269.8" y="747.3" font-size="28.4" text-anchor="middle">39</text>
<text x="1346.7" y="747.3" font-size="28.4" text-anchor="middle">40</text>
<text x="1423.7" y="747.3" font-size="28.4" text-anchor="middle">41</text>
<text x="1500.7" y="747.3" font-size="28.4" text-anchor="middle">42</text>
<text x="1577.7" y="747.3" font-size="28.4" text-anchor="middle">43</text>
<text x="1654.7" y="747.3" font-size="28.4" text-anchor="middle">44</text>
<text x="1731.7" y="747.3" font-size="28.4" text-anchor="middle">45</text>
<text x="922.2" y="793.8" font-size="28" font-weight="bold" text-anchor="middle" textLength="401" lengthAdjust="spacingAndGlyphs">Standard Meteorological Week</text>
<rect x="175.8" y="822" width="60" height="15.8" fill="#3f8a24"/>
<text x="243.5" y="839.0" font-size="28.5" textLength="246.0" lengthAdjust="spacingAndGlyphs">Total Rainfall (mm.)</text>
<line x1="545" y1="829.3" x2="604.8" y2="829.3" stroke="#b5413e" stroke-width="6.5" stroke-linecap="round"/>
<rect x="564.4" y="819.3" width="20" height="20" fill="#b9453f" stroke="#a33338" stroke-width="1.2"/>
<text x="611.5" y="839.0" font-size="28.5" textLength="168.0" lengthAdjust="spacingAndGlyphs">Temp. (Max.)</text>
<line x1="914.3" y1="829.3" x2="973.6" y2="829.3" stroke="#7f9e45" stroke-width="6.5" stroke-linecap="round"/>
<polygon points="943.8,818.3 954.3,839.3 933.3,839.3" fill="#7f9e45"/>
<text x="980.4" y="839.0" font-size="28.5" textLength="154.0" lengthAdjust="spacingAndGlyphs">Temp.(Min.)</text>
<path d="M1302.8 819.8L1321.8 838.8M1302.8 838.8L1321.8 819.8" stroke="#4a4260" stroke-width="2.0" fill="none"/>
<line x1="1282.4" y1="829.3" x2="1342.4" y2="829.3" stroke="#69538f" stroke-width="6.5" stroke-linecap="round"/>
<text x="1349.2" y="839.0" font-size="28.5" textLength="140.0" lengthAdjust="spacingAndGlyphs">Rh. % Max.</text>
<path d="M196.2 876.1L215.2 895.1M196.2 895.1L215.2 876.1M205.7 875.6L205.7 895.6" stroke="#3a8890" stroke-width="2.3" fill="none"/>
<line x1="176.6" y1="885.6" x2="235.9" y2="885.6" stroke="#3b94ad" stroke-width="6.5" stroke-linecap="round"/>
<text x="243.5" y="895.4" font-size="28.5" textLength="128.0" lengthAdjust="spacingAndGlyphs">Rh.% Min.</text>
<line x1="545" y1="885.6" x2="604.8" y2="885.6" stroke="#ff00ff" stroke-width="6.5" stroke-linecap="round"/>
<line x1="564.4" y1="885.6" x2="584.4" y2="885.6" stroke="#8c9be6" stroke-width="2.4"/>
<line x1="574.4" y1="875.6" x2="574.4" y2="895.6" stroke="#7a8db0" stroke-width="2.4"/>
<text x="611.5" y="895.4" font-size="28.5" textLength="217.0" lengthAdjust="spacingAndGlyphs">No. of Rainy days</text>
<line x1="914.3" y1="885.6" x2="973.6" y2="885.6" stroke="#ff0000" stroke-width="6.5" stroke-linecap="round"/>
<rect x="938.3" y="882.6" width="11" height="6" fill="#e49a96"/>
<text x="980.4" y="895.4" font-size="28.5" textLength="290.0" lengthAdjust="spacingAndGlyphs">Wind velocity (km./hr.)</text>
<line x1="1282.4" y1="885.6" x2="1342.4" y2="885.6" stroke="#aec68e" stroke-width="6.5" stroke-linecap="round"/>
<text x="1349.2" y="895.4" font-size="28.5" textLength="291.0" lengthAdjust="spacingAndGlyphs">Evaporation (mm./day)</text>
</svg></body></html>
